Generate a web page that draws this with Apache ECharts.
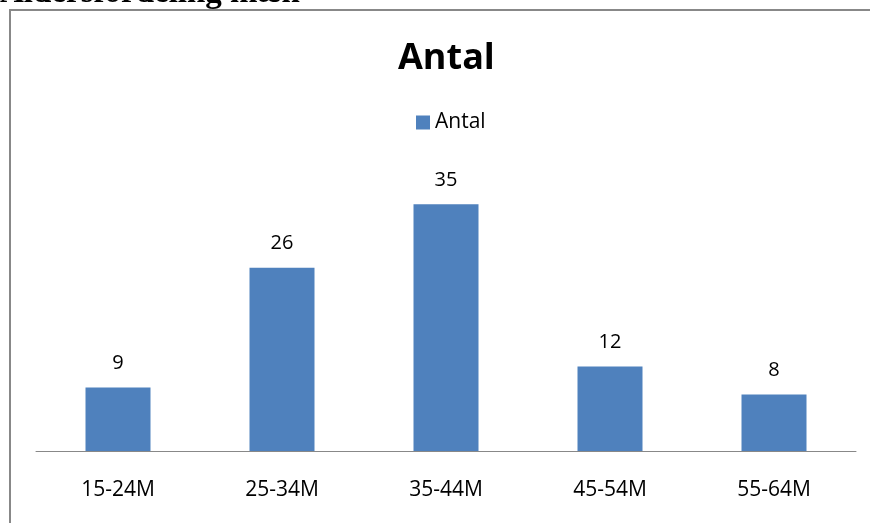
<!DOCTYPE html>
<html><head><meta charset="utf-8">
<script src="https://cdn.jsdelivr.net/npm/echarts@6/dist/echarts.min.js"></script>
<style>html,body{margin:0;padding:0;background:#fff}#c{width:870px;height:523px}</style>
</head><body><div id="c"></div>
<script>
const categories = ['15-24M','25-34M','35-44M','45-54M','55-64M'];
const antal = [9, 26, 35, 12, 8];
const pageHeading = 'Aldersfordeling mæn';
const chartTitle = 'Antal';
const seriesName = 'Antal';

const chart = echarts.init(document.getElementById('c'));
const font = 'Open Sans, Lato, sans-serif';
chart.setOption({
  animation: false,
  title: { text: chartTitle, left: 393, top: 36,
    textStyle: { fontFamily: font, fontWeight: 'bold', fontSize: 36, color: '#000' } },
  legend: { data: [seriesName], left: 411, top: 107, itemWidth: 14, itemHeight: 14, itemGap: 7,
    icon: 'rect', textStyle: { fontFamily: font, fontSize: 21, color: '#000' } },
  grid: { left: 36, right: 14, top: 169, bottom: 72 },
  xAxis: { type: 'category', data: categories,
    axisLine: { lineStyle: { color: '#888', width: 1 } }, axisTick: { show: false },
    axisLabel: { fontFamily: font, fontSize: 21, color: '#000', margin: 29 } },
  yAxis: { type: 'value', min: 0, max: 40, show: false, splitLine: { show: false } },
  series: [{ name: seriesName, type: 'bar', data: antal, barWidth: 65,
    itemStyle: { color: '#4f81bd' },
    label: { show: true, position: 'top', distance: 14, fontFamily: font, fontSize: 20, color: '#000' } }],
  graphic: [
    { type: 'rect', shape: { x: 10, y: 10, width: 1000, height: 1000 },
      style: { fill: 'none', stroke: '#888', lineWidth: 2 }, silent: true },
    { type: 'text', left: 0, top: -23, style: { text: pageHeading,
      font: 'bold 33px "Liberation Serif", serif', fill: '#000' } }
  ]
});
</script></body></html>
